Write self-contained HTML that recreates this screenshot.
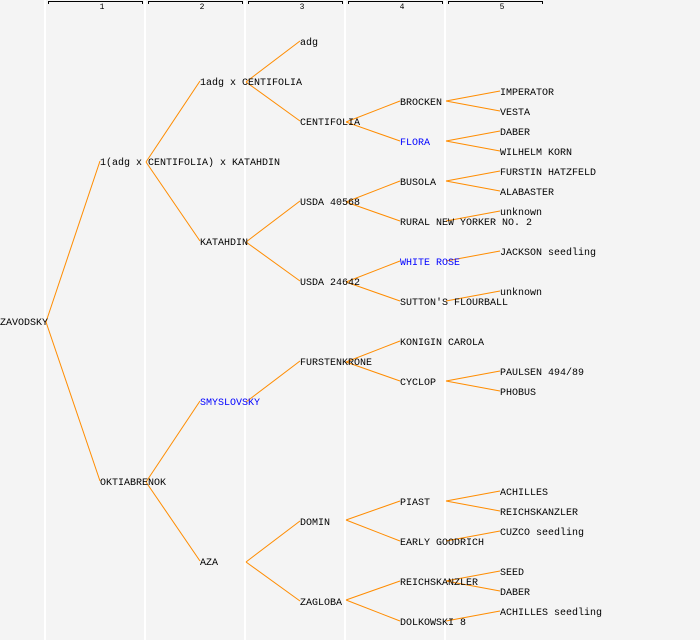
<!DOCTYPE html>
<html><head><meta charset="utf-8"><style>
html,body{margin:0;padding:0;background:#f4f4f4;}
svg{display:block;}
text{font-family:"Liberation Mono",monospace;font-size:10px;fill:#000;}
.b{fill:#0000ff;}
.h{font-size:8px;}
line.e{stroke:#ff8c00;stroke-width:1;}
</style></head><body>
<svg width="700" height="640" xmlns="http://www.w3.org/2000/svg">
<rect width="700" height="640" fill="#f4f4f4"/>
<g stroke="#ffffff" stroke-width="2">
<line x1="45" y1="0" x2="45" y2="640"/><line x1="145" y1="0" x2="145" y2="640"/><line x1="245" y1="0" x2="245" y2="640"/><line x1="345" y1="0" x2="345" y2="640"/><line x1="445" y1="0" x2="445" y2="640"/>
</g>
<g stroke="#000" stroke-width="1" fill="none">
<path d="M48.5,4V1.5H142.5V4"/><path d="M148.5,4V1.5H242.5V4"/><path d="M248.5,4V1.5H342.5V4"/><path d="M348.5,4V1.5H442.5V4"/><path d="M448.5,4V1.5H542.5V4"/>
</g>
<g text-anchor="middle" class="h">
<text class="h" x="102" y="9">1</text><text class="h" x="202" y="9">2</text><text class="h" x="302" y="9">3</text><text class="h" x="402" y="9">4</text><text class="h" x="502" y="9">5</text>
</g>
<g class="ed">
<line class="e" x1="46" y1="322" x2="100" y2="161"/><line class="e" x1="46" y1="322" x2="100" y2="481"/>
<line class="e" x1="146" y1="162" x2="200" y2="81"/><line class="e" x1="146" y1="162" x2="200" y2="241"/>
<line class="e" x1="146" y1="482" x2="200" y2="401"/><line class="e" x1="146" y1="482" x2="200" y2="561"/>
<line class="e" x1="246" y1="82" x2="300" y2="41"/><line class="e" x1="246" y1="82" x2="300" y2="121"/>
<line class="e" x1="246" y1="242" x2="300" y2="201"/><line class="e" x1="246" y1="242" x2="300" y2="281"/>
<line class="e" x1="246" y1="402" x2="300" y2="361"/>
<line class="e" x1="246" y1="562" x2="300" y2="521"/><line class="e" x1="246" y1="562" x2="300" y2="601"/>
<line class="e" x1="346" y1="122" x2="400" y2="101"/><line class="e" x1="346" y1="122" x2="400" y2="141"/>
<line class="e" x1="346" y1="202" x2="400" y2="181"/><line class="e" x1="346" y1="202" x2="400" y2="221"/>
<line class="e" x1="346" y1="282" x2="400" y2="261"/><line class="e" x1="346" y1="282" x2="400" y2="301"/>
<line class="e" x1="346" y1="362" x2="400" y2="341"/><line class="e" x1="346" y1="362" x2="400" y2="381"/>
<line class="e" x1="346" y1="520" x2="400" y2="501"/><line class="e" x1="346" y1="520" x2="400" y2="541"/>
<line class="e" x1="346" y1="600" x2="400" y2="581"/><line class="e" x1="346" y1="600" x2="400" y2="621"/>
<line class="e" x1="446" y1="101" x2="500" y2="91"/><line class="e" x1="446" y1="101" x2="500" y2="111"/>
<line class="e" x1="446" y1="141" x2="500" y2="131"/><line class="e" x1="446" y1="141" x2="500" y2="151"/>
<line class="e" x1="446" y1="181" x2="500" y2="171"/><line class="e" x1="446" y1="181" x2="500" y2="191"/>
<line class="e" x1="446" y1="221" x2="500" y2="211"/>
<line class="e" x1="446" y1="261" x2="500" y2="251"/>
<line class="e" x1="446" y1="301" x2="500" y2="291"/>
<line class="e" x1="446" y1="381" x2="500" y2="371"/><line class="e" x1="446" y1="381" x2="500" y2="391"/>
<line class="e" x1="446" y1="501" x2="500" y2="491"/><line class="e" x1="446" y1="501" x2="500" y2="511"/>
<line class="e" x1="446" y1="541" x2="500" y2="531"/>
<line class="e" x1="446" y1="581" x2="500" y2="571"/><line class="e" x1="446" y1="581" x2="500" y2="591"/>
<line class="e" x1="446" y1="621" x2="500" y2="611"/>
</g>
<g transform="translate(0,-1)">
<text x="0" y="326">ZAVODSKY</text>
<text x="100" y="166">1(adg x CENTIFOLIA) x KATAHDIN</text>
<text x="100" y="486">OKTIABRENOK</text>
<text x="200" y="86">1adg x CENTIFOLIA</text>
<text x="200" y="246">KATAHDIN</text>
<text x="200" y="406" class="b">SMYSLOVSKY</text>
<text x="200" y="566">AZA</text>
<text x="300" y="46">adg</text>
<text x="300" y="126">CENTIFOLIA</text>
<text x="300" y="206">USDA 40568</text>
<text x="300" y="286">USDA 24642</text>
<text x="300" y="366">FURSTENKRONE</text>
<text x="300" y="526">DOMIN</text>
<text x="300" y="606">ZAGLOBA</text>
<text x="400" y="106">BROCKEN</text>
<text x="400" y="146" class="b">FLORA</text>
<text x="400" y="186">BUSOLA</text>
<text x="400" y="226">RURAL NEW YORKER NO. 2</text>
<text x="400" y="266" class="b">WHITE ROSE</text>
<text x="400" y="306">SUTTON'S FLOURBALL</text>
<text x="400" y="346">KONIGIN CAROLA</text>
<text x="400" y="386">CYCLOP</text>
<text x="400" y="506">PIAST</text>
<text x="400" y="546">EARLY GOODRICH</text>
<text x="400" y="586">REICHSKANZLER</text>
<text x="400" y="626">DOLKOWSKI 8</text>
<text x="500" y="96">IMPERATOR</text>
<text x="500" y="116">VESTA</text>
<text x="500" y="136">DABER</text>
<text x="500" y="156">WILHELM KORN</text>
<text x="500" y="176">FURSTIN HATZFELD</text>
<text x="500" y="196">ALABASTER</text>
<text x="500" y="216">unknown</text>
<text x="500" y="256">JACKSON seedling</text>
<text x="500" y="296">unknown</text>
<text x="500" y="376">PAULSEN 494/89</text>
<text x="500" y="396">PHOBUS</text>
<text x="500" y="496">ACHILLES</text>
<text x="500" y="516">REICHSKANZLER</text>
<text x="500" y="536">CUZCO seedling</text>
<text x="500" y="576">SEED</text>
<text x="500" y="596">DABER</text>
<text x="500" y="616">ACHILLES seedling</text>
</g>
</svg>
</body></html>
